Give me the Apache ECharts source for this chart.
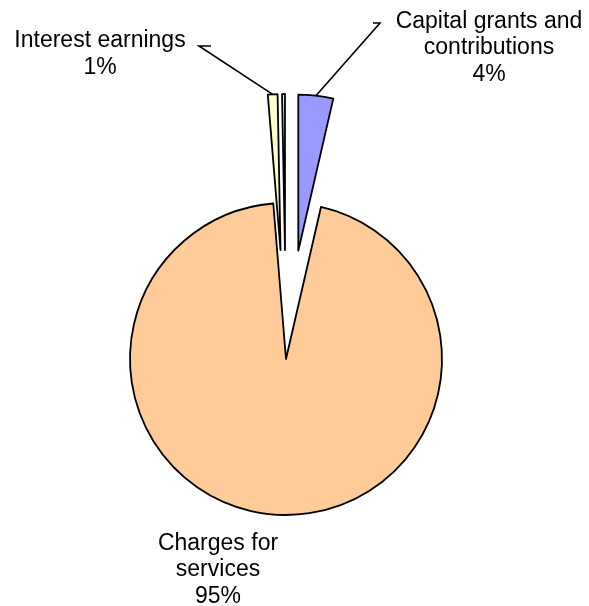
<!DOCTYPE html>
<html>
<head>
<meta charset="utf-8">
<script src="https://cdn.jsdelivr.net/npm/echarts@6/dist/echarts.min.js"></script>
<style>
  html, body { margin: 0; padding: 0; background: #fff; }
  #container { width: 589px; height: 606px; }
</style>
</head>
<body>
<div id="container"></div>
<script>
// revenue shares, clockwise from 12 o'clock
var names = ['Capital grants and\ncontributions', 'Charges for\nservices', 'Interest earnings', 'Other'];
var values = [3.6, 95.1, 1.0, 0.3];
var colors = ['#9999FF', '#FFCC99', '#FFFFCC', '#CCFFFF'];
var exploded = [true, false, true, true];
var showLabel = [true, true, true, false];

// where the text blocks sit (centre of block) and the elbow of the leader
var labelPlace = [[489, 48], [218, 570], [100, 54], [0, 0]];
var elbow = [[380, 23], null, [199, 46], null];

var pieCenter = [286, 359];
var pieRadius = 156;
var explodeBy = 109;

var dom = document.getElementById('container');
var myChart = echarts.init(dom, null, {renderer: 'canvas'});

var sliceData = [];
var labelData = [];
for (var i = 0; i < names.length; i++) {
    sliceData.push({
        name: names[i],
        value: values[i],
        selected: exploded[i],
        itemStyle: {color: colors[i]}
    });
    labelData.push({
        name: names[i],
        value: values[i],
        label: {show: showLabel[i]},
        labelLine: {show: showLabel[i] && elbow[i] != null}
    });
}

var option = {
    backgroundColor: '#fff',
    animation: false,
    series: [{
        // the visible slices, small ones pulled out
        type: 'pie',
        center: pieCenter,
        radius: pieRadius,
        startAngle: 90,
        clockwise: true,
        selectedMode: 'multiple',
        selectedOffset: explodeBy,
        silent: true,
        itemStyle: {borderColor: '#000', borderWidth: 1.8},
        label: {show: false},
        labelLine: {show: false},
        data: sliceData
    }, {
        // same pie, invisible, only carries the labels
        type: 'pie',
        center: pieCenter,
        radius: pieRadius,
        startAngle: 90,
        clockwise: true,
        silent: true,
        avoidLabelOverlap: false,
        itemStyle: {color: 'rgba(0,0,0,0)', borderWidth: 0},
        label: {
            position: 'outside',
            color: '#000',
            fontFamily: '"Liberation Sans", Arial, sans-serif',
            fontSize: 23,
            lineHeight: 26.5,
            align: 'center',
            formatter: function (p) {
                return p.name + '\n' + Math.round(p.percent) + '%';
            }
        },
        labelLine: {
            lineStyle: {color: '#000', width: 1.6}
        },
        labelLayout: function (p) {
            var pos = labelPlace[p.dataIndex];
            var out = {x: pos[0], y: pos[1], align: 'center', verticalAlign: 'middle'};
            var e = elbow[p.dataIndex];
            if (e && p.labelLinePoints) {
                var p0 = p.labelLinePoints[0];
                var k = (pieRadius + explodeBy) / pieRadius;
                var start = [pieCenter[0] + (p0[0] - pieCenter[0]) * k,
                             pieCenter[1] + (p0[1] - pieCenter[1]) * k];
                var end = e[0] > pos[0] ? [e[0] + 12, e[1]] : [e[0] - 7, e[1]];
                out.labelLinePoints = [start, e, end];
            }
            return out;
        },
        data: labelData
    }]
};

myChart.setOption(option);
</script>
</body>
</html>
